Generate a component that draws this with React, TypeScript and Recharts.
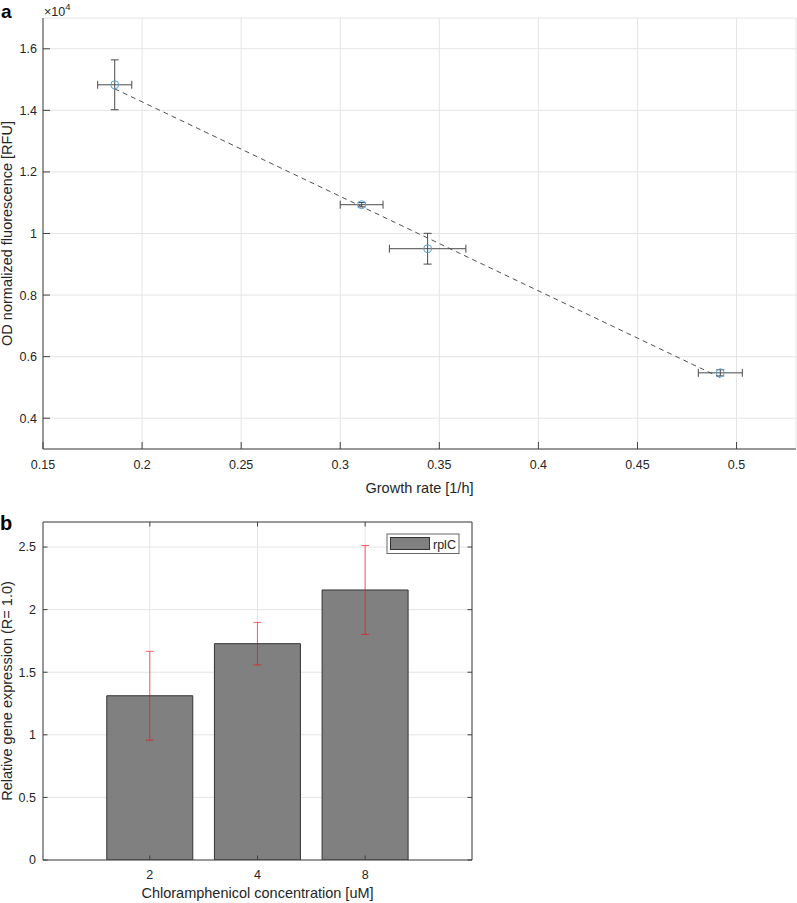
import React from "react";
import {
  ScatterChart,
  Scatter,
  BarChart,
  Bar,
  XAxis,
  YAxis,
  CartesianGrid,
  ErrorBar,
} from "recharts";

// panel a: growth rate vs OD normalized fluorescence
const growthRate = [0.1862, 0.3108, 0.3441, 0.4918];
const growthRateErr = [0.0086, 0.0108, 0.0193, 0.0111];
const fluorescence = [14830, 10935, 9506, 5474];
const fluorescenceErr = [810, 70, 500, 100];
// dashed linear fit
const fitGrowth = [0.1862, 0.4918];
const fitFluor = [14700, 5320];
const growthTicks = [0.15, 0.2, 0.25, 0.3, 0.35, 0.4, 0.45, 0.5];
const fluorTicks = [4000, 6000, 8000, 10000, 12000, 14000, 16000];

// panel b: relative gene expression
const concentrations = ["2", "4", "8"];
const rplC = [1.312, 1.728, 2.157];
const rplCErr = [0.355, 0.17, 0.355];
const exprTicks = [0, 0.5, 1, 1.5, 2, 2.5];
const seriesName = "rplC";

const FONT = '"Liberation Sans", Arial, Helvetica, sans-serif';
const AXIS = "#404040";
const TEXT = "#262626";
const GRID = "#e4e4e4";

const num = (v: number) => String(Number(v.toFixed(2)));

type TickProps = { x: number; y: number; payload: { value: any } };

// MATLAB style inward ticks
const bottomTick =
  (margin: number, len: number, fmt: (v: any) => string) =>
  ({ x, y, payload }: TickProps) => (
    <g>
      <line x1={x} x2={x} y1={y - margin} y2={y - margin - len} stroke={AXIS} />
      <text x={x} y={y} dy="0.71em" textAnchor="middle" fill={TEXT} fontSize={12.5}>
        {fmt(payload.value)}
      </text>
    </g>
  );

const leftTick =
  (margin: number, len: number, fmt: (v: any) => string) =>
  ({ x, y, payload }: TickProps) => (
    <g>
      <line x1={x + margin} x2={x + margin + len} y1={y} y2={y} stroke={AXIS} />
      <text x={x} y={y} dy="0.355em" textAnchor="end" fill={TEXT} fontSize={12.5}>
        {fmt(payload.value)}
      </text>
    </g>
  );

const topTick =
  (len: number) =>
  ({ x, y }: TickProps) => <line x1={x} x2={x} y1={y} y2={y + len} stroke={AXIS} />;

const rightTick =
  (len: number) =>
  ({ x, y }: TickProps) => <line x1={x} x2={x - len} y1={y} y2={y} stroke={AXIS} />;

const Ring = (props: any) => (
  <circle cx={props.cx} cy={props.cy} r={4} fill="none" stroke="#5a9fd4" strokeWidth={1} />
);

export default function App() {
  const points = growthRate.map((x, i) => ({
    x,
    y: fluorescence[i],
    ex: growthRateErr[i],
    ey: fluorescenceErr[i],
  }));
  const fit = fitGrowth.map((x, i) => ({ x, y: fitFluor[i] }));
  const barData = concentrations.map((c, i) => ({ conc: c, v: rplC[i], err: rplCErr[i] }));

  return (
    <div
      style={{
        position: "absolute",
        left: 0,
        top: 0,
        width: 797,
        height: 903,
        background: "#fff",
        fontFamily: FONT,
      }}
    >
      <div style={{ position: "absolute", left: 0, top: 0 }}>
        <ScatterChart width={797} height={480} margin={{ top: 18, right: 1, bottom: 0, left: 0 }}>
          <CartesianGrid stroke={GRID} />
          <XAxis
            type="number"
            dataKey="x"
            domain={[0.15, 0.53]}
            ticks={growthTicks}
            interval={0}
            allowDataOverflow
            height={31}
            tickSize={0}
            tickMargin={11}
            stroke={AXIS}
            tick={bottomTick(11, 7, num)}
          />
          <YAxis
            type="number"
            dataKey="y"
            domain={[3000, 17000]}
            ticks={fluorTicks}
            interval={0}
            allowDataOverflow
            width={43}
            tickSize={0}
            tickMargin={6}
            stroke={AXIS}
            tick={leftTick(6, 7, (v) => num(v / 10000))}
          />
          <Scatter
            data={fit}
            line={{ stroke: "#505050", strokeDasharray: "5 4", strokeWidth: 1 }}
            shape={() => <g />}
            isAnimationActive={false}
          />
          <Scatter data={points} shape={Ring} isAnimationActive={false}>
            <ErrorBar dataKey="ex" direction="x" width={4} stroke="#4a4a4a" strokeWidth={1} />
            <ErrorBar dataKey="ey" direction="y" width={4} stroke="#4a4a4a" strokeWidth={1} />
          </Scatter>
        </ScatterChart>
      </div>

      <div style={{ position: "absolute", left: 0, top: 500 }}>
        <BarChart
          width={480}
          height={403}
          data={barData}
          margin={{ top: 0, right: 0, bottom: 0, left: 0 }}
          barCategoryGap="10%"
        >
          <CartesianGrid stroke={GRID} />
          <XAxis
            dataKey="conc"
            padding={{ left: 53, right: 53 }}
            height={43}
            interval={0}
            tickSize={0}
            tickMargin={10}
            stroke={AXIS}
            tick={bottomTick(10, 4.5, (v) => String(v))}
          />
          <XAxis
            xAxisId="top"
            orientation="top"
            dataKey="conc"
            padding={{ left: 53, right: 53 }}
            height={22}
            interval={0}
            tickSize={0}
            tickMargin={0}
            stroke={AXIS}
            tick={topTick(4.5)}
          />
          <YAxis
            domain={[0, 2.7]}
            ticks={exprTicks}
            interval={0}
            allowDataOverflow
            width={43}
            tickSize={0}
            tickMargin={7}
            stroke={AXIS}
            tick={leftTick(7, 4.5, num)}
          />
          <YAxis
            yAxisId="right"
            orientation="right"
            domain={[0, 2.7]}
            ticks={exprTicks}
            interval={0}
            allowDataOverflow
            width={8}
            tickSize={0}
            tickMargin={0}
            stroke={AXIS}
            tick={rightTick(4.5)}
          />
          <Bar dataKey="v" name={seriesName} fill="#808080" stroke="#333" strokeWidth={1} isAnimationActive={false}>
            <ErrorBar dataKey="err" direction="y" width={4} stroke="#ff0000" strokeOpacity={0.6} strokeWidth={1} />
          </Bar>
        </BarChart>
      </div>

      {/* titles, panel letters, legend */}
      <svg
        width={797}
        height={903}
        style={{ position: "absolute", left: 0, top: 0, pointerEvents: "none" }}
        fontFamily={FONT}
      >
        <text x={1} y={18} fontSize={19} fontWeight="bold" fill="#000">a</text>
        <text x={0} y={530} fontSize={20} fontWeight="bold" fill="#000">b</text>
        <text x={44} y={16} fontSize={12.5} fill={TEXT}>
          ×10
          <tspan dy={-6} fontSize={9.5}>4</tspan>
        </text>
        <text
          x={12}
          y={233.5}
          fontSize={14.5}
          fill={TEXT}
          textAnchor="middle"
          transform="rotate(-90 12 233.5)"
        >
          OD normalized fluorescence [RFU]
        </text>
        <text x={419.5} y={493} fontSize={14.5} fill={TEXT} textAnchor="middle">
          Growth rate [1/h]
        </text>
        <text
          x={12}
          y={691}
          fontSize={14.5}
          fill={TEXT}
          textAnchor="middle"
          transform="rotate(-90 12 691)"
        >
          Relative gene expression (R= 1.0)
        </text>
        <text x={257.5} y={898} fontSize={14.5} fill={TEXT} textAnchor="middle">
          Chloramphenicol concentration [uM]
        </text>
        <rect x={387} y={534} width={72} height={19.5} fill="#fff" stroke="#666" strokeWidth={1} />
        <rect x={390.5} y={537.5} width={39} height={12} fill="#808080" stroke="#333" strokeWidth={1} />
        <text x={433} y={548.5} fontSize={12.5} fill={TEXT}>
          {seriesName}
        </text>
      </svg>
    </div>
  );
}
